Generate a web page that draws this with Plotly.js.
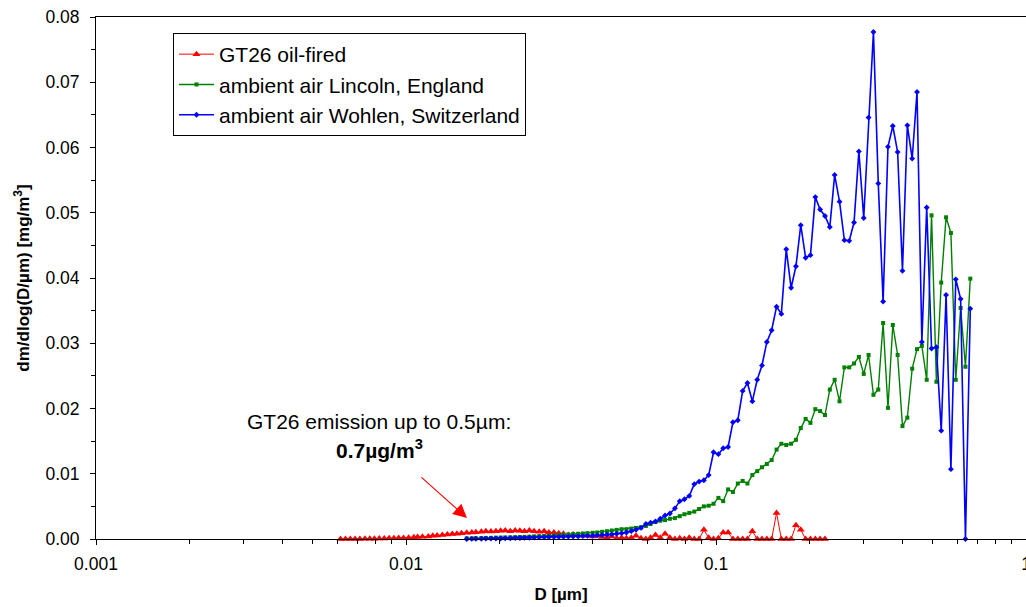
<!DOCTYPE html>
<html>
<head>
<meta charset="utf-8">
<script src="https://cdn.plot.ly/plotly-3.0.1.min.js"></script>
<style>
  html, body { margin: 0; padding: 0; background: #ffffff; }
  #chart { width: 1026px; height: 607px; }
</style>
</head>
<body>
<div id="chart"></div>
<script>
// ---------------- DATA ----------------
// Particle diameters D [µm] (SMPS channels, 64 per decade)
const dGT26 = [
  0.00615, 0.00638, 0.00661, 0.00685, 0.00710, 0.00737, 0.00764, 0.00791, 0.00820, 0.00851,
  0.00882, 0.00914, 0.00947, 0.00982, 0.0102, 0.0106, 0.0109, 0.0113, 0.0118, 0.0122,
  0.0126, 0.0131, 0.0136, 0.0141, 0.0146, 0.0151, 0.0157, 0.0163, 0.0168, 0.0175,
  0.0181, 0.0188, 0.0195, 0.0202, 0.0209, 0.0217, 0.0225, 0.0233, 0.0241, 0.0250,
  0.0259, 0.0269, 0.0279, 0.0289, 0.0300, 0.0311, 0.0322, 0.0334, 0.0346, 0.0359,
  0.0372, 0.0385, 0.0400, 0.0414, 0.0429, 0.0445, 0.0461, 0.0478, 0.0496, 0.0514,
  0.0533, 0.0552, 0.0573, 0.0594, 0.0615, 0.0638, 0.0661, 0.0685, 0.0710, 0.0737,
  0.0764, 0.0791, 0.0820, 0.0851, 0.0882, 0.0914, 0.0947, 0.0982, 0.1018, 0.1055,
  0.1094, 0.1134, 0.1176, 0.1219, 0.1263, 0.1310, 0.1358, 0.1407, 0.1459, 0.1512,
  0.1568, 0.1625, 0.1685, 0.1747, 0.1811, 0.1877, 0.1946, 0.2017, 0.2091, 0.2167,
  0.2247
];
const mGT26 = [
  0, 0, 0, 0, 0, 0.00002,
  0.00003, 0.00005, 0.00006, 0.00008, 0.0001, 0.00012, 0.00014,
  0.00017, 0.0002, 0.00025, 0.0003, 0.00035, 0.0004, 0.00048,
  0.00055, 0.0006, 0.00068, 0.00075, 0.00082, 0.0009, 0.00095,
  0.001, 0.00105, 0.0011, 0.0012, 0.00115, 0.0012, 0.00125,
  0.0013, 0.0012, 0.0013, 0.00125, 0.0012, 0.0013, 0.0012,
  0.0011, 0.0012, 0.001, 0.001, 0.0009, 0.0008, 0.0006,
  0.0007, 0.0006, 0.0005, 0.0006, 0.0004, 0.0005, 0.0003,
  0.0002, 0.0004, 0.0001, 0.0002, 0.0001, 0.0002, 0.0005,
  0.0001, 0, 0.0002, 0.0006, 0.0002, 0.0008, 0.0002,
  0, 0.0001, 0, 0.0002, 0, 0, 0.0014,
  0.0002, 0, 0.0001, 0.001, 0.001, 0, 0,
  0, 0, 0.0012, 0, 0, 0, 0,
  0.004, 0, 0, 0, 0.0021, 0.0014, 0,
  0, 0, 0, 0
];

const dAmbient = [
  0.0157, 0.0163, 0.0168, 0.0175, 0.0181, 0.0188, 0.0195, 0.0202, 0.0209, 0.0217,
  0.0225, 0.0233, 0.0241, 0.0250, 0.0259, 0.0269, 0.0279, 0.0289, 0.0300, 0.0311,
  0.0322, 0.0334, 0.0346, 0.0359, 0.0372, 0.0385, 0.0400, 0.0414, 0.0429, 0.0445,
  0.0461, 0.0478, 0.0496, 0.0514, 0.0533, 0.0552, 0.0573, 0.0594, 0.0615, 0.0638,
  0.0661, 0.0685, 0.0710, 0.0737, 0.0764, 0.0791, 0.0820, 0.0851, 0.0882, 0.0914,
  0.0947, 0.0982, 0.1018, 0.1055, 0.1094, 0.1134, 0.1176, 0.1219, 0.1263, 0.1310,
  0.1358, 0.1407, 0.1459, 0.1512, 0.1568, 0.1625, 0.1685, 0.1747, 0.1811, 0.1877,
  0.1946, 0.2017, 0.2091, 0.2167, 0.2247, 0.2329, 0.2414, 0.2503, 0.2595, 0.2690,
  0.2788, 0.2890, 0.2996, 0.3106, 0.3220, 0.3338, 0.3460, 0.3587, 0.3718, 0.3854,
  0.3995, 0.4142, 0.4294, 0.4451, 0.4614, 0.4783, 0.4958, 0.5140, 0.5328, 0.5523,
  0.5725, 0.5935, 0.6153, 0.6378, 0.6612
];
const mLincoln = [
  0.0001, 0.0001, 0.00012, 0.00014, 0.00016, 0.00018, 0.0002, 0.00022, 0.00024, 0.00026,
  0.00028, 0.0003, 0.00033, 0.00036, 0.0004, 0.00043, 0.00047, 0.0005, 0.00055, 0.0006,
  0.00065, 0.0007, 0.00075, 0.0008, 0.00085, 0.0009, 0.00095, 0.001, 0.0011, 0.0012,
  0.0013, 0.0014, 0.0015, 0.0015, 0.0016, 0.0017, 0.0018, 0.002,
  0.0023, 0.0026, 0.0028, 0.0029, 0.0031, 0.0032, 0.0035, 0.0038, 0.0040, 0.0042,
  0.0046, 0.0050, 0.0051, 0.0054, 0.0063, 0.0058, 0.0076, 0.0072, 0.0085, 0.0089,
  0.0085, 0.0098, 0.0104, 0.0110, 0.0115, 0.0121, 0.0137, 0.0146, 0.0144, 0.0146,
  0.0152, 0.0170, 0.0184, 0.0178, 0.0199, 0.0196, 0.0190, 0.0229, 0.0244, 0.0211,
  0.0263, 0.0263, 0.0269, 0.0279, 0.0253, 0.0282, 0.0221, 0.0229, 0.0331, 0.0201,
  0.0328, 0.0282, 0.0173, 0.0186, 0.0261, 0.0291, 0.0296, 0.0244, 0.0496, 0.0241,
  0.0393, 0.0493, 0.0469, 0.0244, 0.0354, 0.0264, 0.0399
];
const mWohlen = [
  0.0000, 0.00002, 0.00003, 0.00004, 0.00005, 0.00006, 0.00007, 0.00008, 0.0001, 0.00012,
  0.00014, 0.00016, 0.00018, 0.0002, 0.00022, 0.00024, 0.00026, 0.00028, 0.0003, 0.00032,
  0.00034, 0.00036, 0.00038, 0.0004, 0.00043, 0.00047,
  0.0005, 0.00055, 0.0006, 0.00065, 0.0007, 0.0008, 0.0009, 0.001, 0.0012, 0.0014, 0.0017, 0.0023,
  0.0025, 0.0027, 0.0031, 0.0036, 0.0039, 0.0047, 0.0058, 0.0061, 0.0066, 0.0084,
  0.0088, 0.0090, 0.0098, 0.0133, 0.0130, 0.0139, 0.0141, 0.0179, 0.0182, 0.0227,
  0.0239, 0.0211, 0.0244, 0.0266, 0.0302, 0.0320, 0.0356, 0.0345, 0.0444, 0.0385,
  0.0418, 0.0481, 0.0431, 0.0435, 0.0524, 0.0505, 0.0495, 0.0478, 0.0558, 0.0517,
  0.0458, 0.0457, 0.0485, 0.0594, 0.0492, 0.0646, 0.0777, 0.0545, 0.0364, 0.0601,
  0.0633, 0.0593, 0.0411, 0.0634, 0.0583, 0.0685, 0.0302, 0.0508, 0.0292, 0.0294,
  0.0166, 0.0374, 0.0107, 0.0398, 0.0368, 0.0000, 0.0353
];

const seriesNames = ['GT26 oil-fired', 'ambient air Lincoln, England', 'ambient air Wohlen, Switzerland'];
const xTickVals = [0.001, 0.01, 0.1, 1];
const xTickText = ['0.001', '0.01', '0.1', '1'];
const xMinorVals = [0.002,0.003,0.004,0.005,0.006,0.007,0.008,0.009,
                    0.02,0.03,0.04,0.05,0.06,0.07,0.08,0.09,
                    0.2,0.3,0.4,0.5,0.6,0.7,0.8,0.9];
const xTitle = '<b>D [µm]</b>';
const yTitle = '<b>dm/dlog(D/µm) [mg/m<sup>3</sup>]</b>';
const noteLine1 = 'GT26 emission up to 0.5µm:';
const noteLine2 = '<b>0.7µg/m<sup>3</sup></b>';

// ---------------- CHART ----------------
const FONT = 'Arial, "Liberation Sans", Helvetica, sans-serif';

const traces = [
  {
    x: dGT26, y: mGT26, name: seriesNames[0], type: 'scatter', mode: 'lines+markers',
    line: { color: '#FF0000', width: 1 },
    marker: { symbol: 'triangle-up', size: 7, color: '#FF0000' },
    cliponaxis: false
  },
  {
    x: dAmbient, y: mLincoln, name: seriesNames[1], type: 'scatter', mode: 'lines+markers',
    line: { color: '#008000', width: 1.4 },
    marker: { symbol: 'square', size: 4, color: '#008000' },
    cliponaxis: false
  },
  {
    x: dAmbient, y: mWohlen, name: seriesNames[2], type: 'scatter', mode: 'lines+markers',
    line: { color: '#0000FF', width: 1.6 },
    marker: { symbol: 'diamond', size: 4.5, color: '#0000FF' },
    cliponaxis: false
  }
];

const layout = {
  width: 1026, height: 607,
  margin: { l: 96, r: 0, t: 17, b: 68 },
  paper_bgcolor: '#ffffff', plot_bgcolor: '#ffffff',
  font: { family: FONT, color: '#000000', size: 17 },
  showlegend: true,
  xaxis: {
    type: 'log', range: [-3, 0],
    tickmode: 'array', tickvals: xTickVals, ticktext: xTickText,
    ticks: 'outside', ticklen: 5, tickwidth: 1, tickcolor: '#000000',
    ticklabelstandoff: 4,
    showline: true, linecolor: '#000000', linewidth: 1, mirror: true,
    showgrid: false, zeroline: false,
    tickfont: { family: FONT, size: 17.5, color: '#000000' },
    ticklabeloverflow: 'allow',
    minor: { tickmode: 'array', tickvals: xMinorVals, ticks: 'outside', ticklen: 4, tickwidth: 1, tickcolor: '#000000', showgrid: false },
    title: { text: xTitle, font: { family: FONT, size: 17, color: '#000000' } }
  },
  yaxis: {
    range: [0, 0.08],
    tickmode: 'linear', tick0: 0, dtick: 0.01, tickformat: '.2f',
    ticks: 'outside', ticklen: 5, tickwidth: 1, tickcolor: '#000000',
    ticklabelstandoff: 7,
    showline: true, linecolor: '#000000', linewidth: 1,
    showgrid: false, zeroline: false,
    automargin: 'left',
    tickfont: { family: FONT, size: 17.5, color: '#000000' },
    minor: { dtick: 0.005, ticks: 'outside', ticklen: 4, tickwidth: 1, tickcolor: '#000000', showgrid: false },
    title: { text: yTitle, font: { family: FONT, size: 17, color: '#000000' }, standoff: 11 }
  },
  legend: {
    x: (173 - 96) / 930, y: (539 - 33) / 522, xanchor: 'left', yanchor: 'top',
    bgcolor: '#ffffff', bordercolor: '#000000', borderwidth: 1,
    font: { family: FONT, size: 21, color: '#000000' },
    itemwidth: 35, tracegroupgap: 0
  },
  annotations: [
    {
      xref: 'paper', yref: 'paper', x: (379 - 96) / 930, y: (539 - 421) / 522,
      text: noteLine1, showarrow: false, xanchor: 'center', yanchor: 'middle',
      font: { family: FONT, size: 21, color: '#000000' }
    },
    {
      xref: 'paper', yref: 'paper', x: (379 - 96) / 930, y: (539 - 449) / 522,
      text: noteLine2, showarrow: false, xanchor: 'center', yanchor: 'middle',
      font: { family: FONT, size: 21, color: '#000000' }
    },
    {
      xref: 'paper', yref: 'paper', x: (467 - 96) / 930, y: (539 - 518) / 522,
      text: '', showarrow: true, ax: -47, ay: -42,
      arrowhead: 2, arrowsize: 2.5, arrowwidth: 1.1, arrowcolor: '#FF0000', standoff: 0
    }
  ]
};

Plotly.newPlot('chart', traces, layout, { displayModeBar: false, staticPlot: true });
</script>
</body>
</html>
